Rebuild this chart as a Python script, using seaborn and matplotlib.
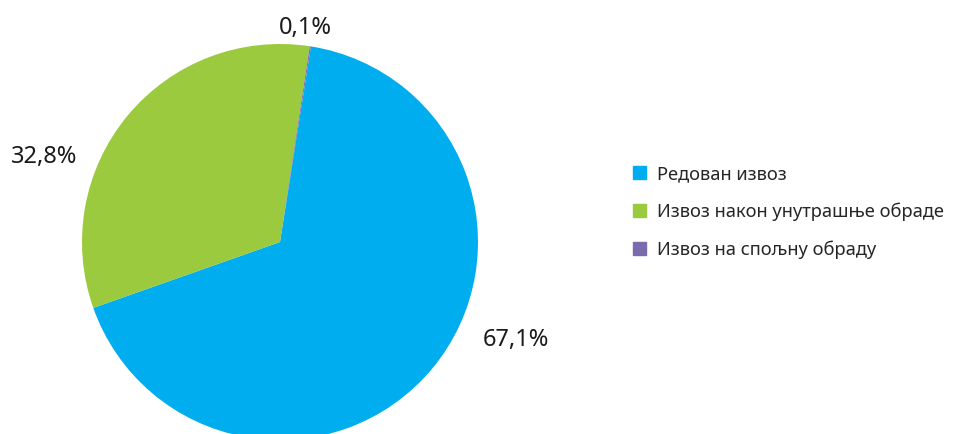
import matplotlib
matplotlib.use("Agg")
import matplotlib.pyplot as plt
import matplotlib.patches as mpatches
import seaborn as sns

# data
categories = ["Редован извоз", "Извоз након унутрашње обраде", "Извоз на спољну обраду"]
shares = [67.1, 32.8, 0.1]
share_labels = ["67,1%", "32,8%", "0,1%"]
colors = ["#00AEEF", "#9BCA3E", "#7B6BAE"]

sns.set_theme(style="white")
plt.rcParams['font.family'] = ['Noto Sans', 'DejaVu Sans']

fig = plt.figure(figsize=(9.56, 4.34), dpi=100)
# pie centre around (280, 242) px, radius ~198 px
ax = fig.add_axes([(280 - 198) / 956, (434 - 242 - 198) / 434, 396 / 956, 396 / 434])

wedges, _ = ax.pie(shares, colors=colors, startangle=81, counterclock=False,
                   wedgeprops=dict(linewidth=0))
ax.set_xlim(-1, 1)
ax.set_ylim(-1, 1)
ax.set_aspect("equal")
ax.axis("off")

# percent labels, placed by hand like in the original
label_pos = [(1.19, -0.495), (-1.19, 0.43), (0.13, 1.08)]
for txt, (x, y) in zip(share_labels, label_pos):
    ax.text(x, y, txt, ha="center", va="center", fontsize=17, color="#1a1a1a")

handles = [mpatches.Patch(color=c, label=l) for c, l in zip(colors, categories)]
fig.legend(handles=handles, loc="center left", bbox_to_anchor=(0.645, 0.512),
           frameon=False, fontsize=13.2, handlelength=0.72, handleheight=0.72,
           handletextpad=0.6, labelspacing=1.05)

fig.savefig("out.png", dpi=100)
